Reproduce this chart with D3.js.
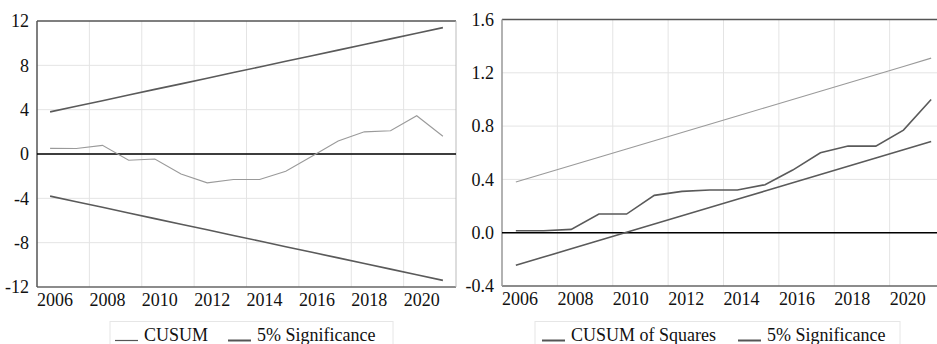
<!DOCTYPE html>
<html lang="en">
<head>
<meta charset="UTF-8">
<title>CUSUM tests</title>
<script src="https://d3js.org/d3.v7.min.js"></script>
</head>
<body style="margin:0">
<svg width="937" height="344" style="display:block"></svg>
<script>
// annual observations
const years = [2006,2007,2008,2009,2010,2011,2012,2013,2014,2015,2016,2017,2018,2019,2020,2021];

const cusum      = [0.51,0.50,0.78,-0.57,-0.45,-1.80,-2.60,-2.30,-2.30,-1.56,-0.20,1.17,2.00,2.10,3.45,1.60];
const cusumUpper = [3.80,4.31,4.81,5.32,5.83,6.33,6.84,7.35,7.85,8.36,8.87,9.37,9.88,10.39,10.89,11.40];
const cusumLower = [-3.80,-4.31,-4.81,-5.32,-5.83,-6.33,-6.84,-7.35,-7.85,-8.36,-8.87,-9.37,-9.88,-10.39,-10.89,-11.40];

const cusumSq = [0.015,0.015,0.025,0.14,0.14,0.28,0.31,0.32,0.32,0.36,0.47,0.60,0.65,0.65,0.77,1.00];
const sqUpper = [0.380,0.442,0.504,0.566,0.628,0.690,0.752,0.814,0.876,0.938,1.000,1.062,1.124,1.186,1.248,1.310];
const sqLower = [-0.245,-0.183,-0.121,-0.059,0.003,0.065,0.127,0.189,0.251,0.313,0.375,0.437,0.499,0.561,0.623,0.685];

const yearTicks  = [2006,2008,2010,2012,2014,2016,2018,2020];
const leftTicks  = [-12,-8,-4,0,4,8,12];
const rightTicks = [-0.4,0,0.4,0.8,1.2,1.6];

const legendLeft  = ["CUSUM", "5% Significance"];
const legendRight = ["CUSUM of Squares", "5% Significance"];

const svg = d3.select("svg");
const hyphen = f => d => f(d).replace("\u2212", "-");

function label(sel) {
  return sel.style("font-family", "'Times New Roman', 'Liberation Serif', Tinos, 'DejaVu Serif', serif")
    .style("font-size", "18px").attr("fill", "#111");
}

function panel(opt) {
  const x = d3.scaleLinear().domain([2006, 2022]).range(opt.xr);
  const y = d3.scaleLinear().domain(opt.yd).range(opt.yr);
  const g = svg.append("g");
  const [x0, x1] = opt.xr, [y0, y1] = [opt.yr[1], opt.yr[0]];

  // grid
  g.selectAll(".vg").data(yearTicks.slice(1)).enter().append("line")
    .attr("x1", d => x(d)).attr("x2", d => x(d)).attr("y1", y0).attr("y2", y1)
    .attr("stroke", "#e4e4e4");
  g.selectAll(".hg").data(opt.ticks.slice(1, -1)).enter().append("line")
    .attr("x1", x0).attr("x2", x1).attr("y1", d => y(d)).attr("y2", d => y(d))
    .attr("stroke", "#e4e4e4");

  // frame
  g.append("line").attr("x1", x0).attr("x2", x1).attr("y1", y0).attr("y2", y0).attr("stroke", "#555").attr("stroke-width", 1.3);
  g.append("line").attr("x1", x0).attr("x2", x1).attr("y1", y1).attr("y2", y1).attr("stroke", "#666").attr("stroke-width", 1.3);
  g.append("line").attr("x1", x0).attr("x2", x0).attr("y1", y0).attr("y2", y1).attr("stroke", opt.leftAxis).attr("stroke-width", 1.5);
  if (opt.rightBorder) g.append("line").attr("x1", x1).attr("x2", x1).attr("y1", y0).attr("y2", y1).attr("stroke", "#bbb");

  // zero line
  g.append("line").attr("x1", x0).attr("x2", x1).attr("y1", y(0)).attr("y2", y(0)).attr("stroke", "#000").attr("stroke-width", 1.5);

  // series
  const line = d3.line().x((d, i) => x(years[i] + 0.5)).y(d => y(d));
  opt.series.forEach(s => {
    g.append("path").attr("d", line(s.v)).attr("fill", "none")
      .attr("stroke", s.c).attr("stroke-width", s.w);
  });

  // tick labels
  g.selectAll(".yl").data(opt.ticks).enter().append("text").call(label)
    .attr("x", x0 - 8).attr("y", d => y(d)).attr("dy", "0.35em").attr("text-anchor", "end")
    .text(opt.fmt);
  g.selectAll(".xl").data(yearTicks).enter().append("text").call(label)
    .attr("x", d => x(d)).attr("y", y1 + 19).attr("text-anchor", "start")
    .text(d => d);

  // legend
  const L = opt.legend;
  g.append("rect").attr("x", L.x).attr("y", 321.5).attr("width", L.w).attr("height", 40)
    .attr("fill", "#fff").attr("stroke", "#e6e6e6");
  L.items.forEach((it, i) => {
    g.append("line").attr("x1", it.lx).attr("x2", it.lx + 23).attr("y1", 340.5).attr("y2", 340.5)
      .attr("stroke", "#555")
      .attr("stroke-width", i === 0 ? L.w0 : 2);
    g.append("text").call(label).attr("x", it.lx + 29).attr("y", 341).text(it.t);
  });
}

panel({
  xr: [37, 456], yd: [-12, 12], yr: [287, 21], ticks: leftTicks,
  fmt: hyphen(d3.format("d")), leftAxis: "#555", rightBorder: true,
  series: [
    { v: cusum, c: "#9a9a9a", w: 1.1 },
    { v: cusumUpper, c: "#5a5a5a", w: 1.6 },
    { v: cusumLower, c: "#5a5a5a", w: 1.6 }
  ],
  legend: { x: 110, w: 283, w0: 1.2, items: [
    { lx: 115, t: legendLeft[0] }, { lx: 228, t: legendLeft[1] } ] }
});

panel({
  xr: [502, 945], yd: [-0.4, 1.6], yr: [286, 19.5], ticks: rightTicks,
  fmt: hyphen(d3.format(".1f")), leftAxis: "#999", rightBorder: false,
  series: [
    { v: cusumSq, c: "#5a5a5a", w: 1.6 },
    { v: sqUpper, c: "#9a9a9a", w: 1.1 },
    { v: sqLower, c: "#5a5a5a", w: 1.6 }
  ],
  legend: { x: 535, w: 365, w0: 2, items: [
    { lx: 542, t: legendRight[0] }, { lx: 738, t: legendRight[1] } ] }
});
</script>
</body>
</html>
